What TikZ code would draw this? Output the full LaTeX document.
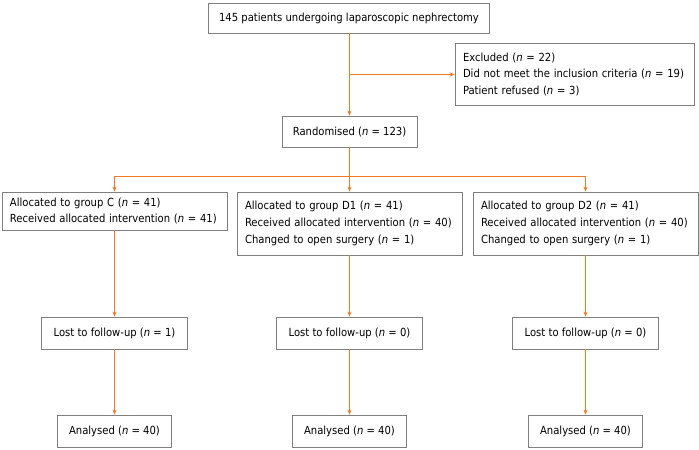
\documentclass[tikz,border=0pt]{standalone}
\usepackage{fontspec}
\setmainfont{DejaVu Sans Condensed}
\usetikzlibrary{arrows.meta}
\definecolor{flow}{RGB}{240,122,40}
\definecolor{frame}{RGB}{128,128,128}

\begin{document}
\begin{tikzpicture}[x=1bp,y=-1bp,
  box/.style={draw=frame,line width=0.7bp,inner xsep=8bp,inner ysep=0pt,font=\fontsize{11.2}{16.8}\selectfont},
  leftbox/.style={box,align=left,text width=#1},
  flowline/.style={draw=flow,line width=1.1bp},
  arr/.style={flowline,-{Stealth[length=5pt,width=4pt]}}]
\useasboundingbox (0,0) rectangle (699,450);

 \node[box,minimum width=281bp,minimum height=30bp] (pts) at (349,18) {145 patients undergoing laparoscopic nephrectomy};
 \node[leftbox=223bp,minimum height=62bp] (excl) at (574.5,74.5) {Excluded (\textit{n} = 22)\\Did not meet the inclusion criteria (\textit{n} = 19)\\Patient refused (\textit{n} = 3)};
 \node[box,minimum width=135bp,minimum height=31bp] (rand) at (349.5,131.5) {Randomised (\textit{n} = 123)};
 \coordinate (split) at (349.5,176.5);

 \node[leftbox=209bp,minimum height=38bp] (grpC) at (114.5,211) {Allocated to group C (\textit{n} = 41)\\Received allocated intervention (\textit{n} = 41)};
 \node[leftbox=209bp,minimum height=63bp] (grpDa) at (349.5,223.5) {Allocated to group D1 (\textit{n} = 41)\\Received allocated intervention (\textit{n} = 40)\\Changed to open surgery (\textit{n} = 1)};
 \node[leftbox=209bp,minimum height=63bp] (grpDb) at (585.5,223.5) {Allocated to group D2 (\textit{n} = 41)\\Received allocated intervention (\textit{n} = 40)\\Changed to open surgery (\textit{n} = 1)};

 \node[box,minimum width=146bp,minimum height=32bp] (lostC) at (114.5,333) {Lost to follow-up (\textit{n} = 1)};
 \node[box,minimum width=146bp,minimum height=32bp] (lostDa) at (349.5,333) {Lost to follow-up (\textit{n} = 0)};
 \node[box,minimum width=146bp,minimum height=32bp] (lostDb) at (585.5,333) {Lost to follow-up (\textit{n} = 0)};

 \node[box,minimum width=114bp,minimum height=32bp] (anaC) at (114.5,431) {Analysed (\textit{n} = 40)};
 \node[box,minimum width=114bp,minimum height=32bp] (anaDa) at (349.5,431) {Analysed (\textit{n} = 40)};
 \node[box,minimum width=114bp,minimum height=32bp] (anaDb) at (585.5,431) {Analysed (\textit{n} = 40)};

 \draw[arr] (rand.north |- pts.south) -- (rand.north);
 \draw[arr] (rand.north |- excl.west) -- (excl.west);
 \draw[flowline] (rand.south) -- (split);
 \draw[arr] (split) -| (grpC);
 \draw[arr] (split) -| (grpDb);
 \draw[arr] (split) -- (grpDa.north);

 \draw[arr] (grpC) -- (lostC);
 \draw[arr] (grpDa) -- (lostDa);
 \draw[arr] (grpDb) -- (lostDb);
 \draw[arr] (lostC) -- (anaC);
 \draw[arr] (lostDa) -- (anaDa);
 \draw[arr] (lostDb) -- (anaDb);
\end{tikzpicture}
\end{document}
